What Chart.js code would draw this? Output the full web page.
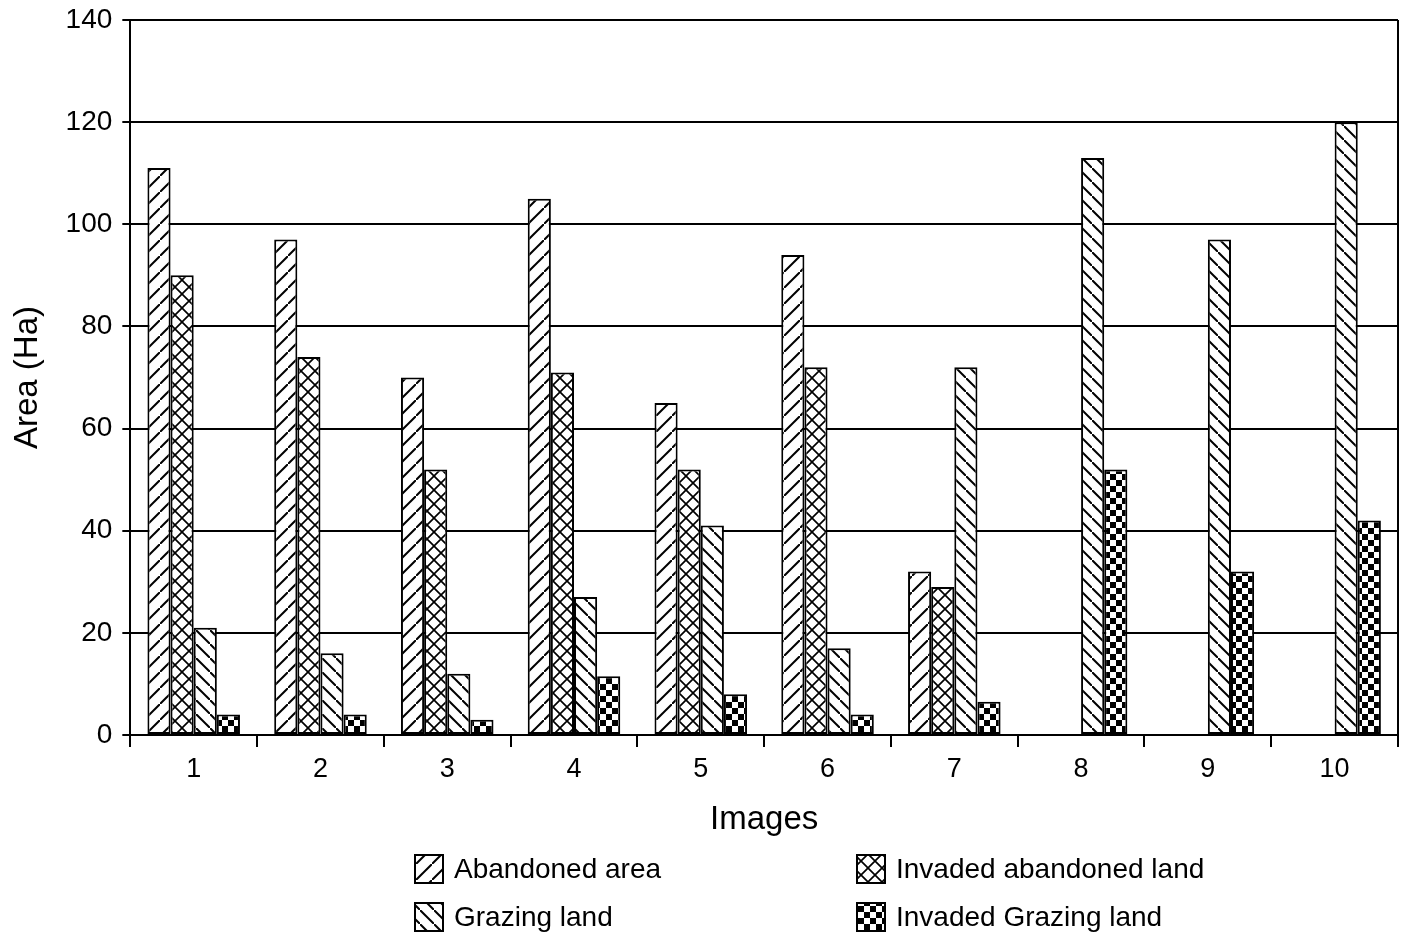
<!DOCTYPE html>
<html>
<head>
<meta charset="utf-8">
<script src="https://cdn.jsdelivr.net/npm/chart.js@4"></script>
<style>
  html, body { margin: 0; padding: 0; background: #fff; }
  #wrap { width: 1408px; height: 934px; position: relative; }
</style>
</head>
<body>
<div id="wrap"><canvas id="c"></canvas></div>
<script>
// ---- data ----
const images = ['1', '2', '3', '4', '5', '6', '7', '8', '9', '10'];
const abandonedArea   = [111, 97, 70, 105, 65, 94, 32, null, null, null];
const invadedAbandon  = [90, 74, 52, 71, 52, 72, 29, null, null, null];
const grazingLand     = [21, 16, 12, 27, 41, 17, 72, 113, 97, 120];
const invadedGrazing  = [4, 4, 3, 11.5, 8, 4, 6.5, 52, 32, 42];
const yTicks = [0, 20, 40, 60, 80, 100, 120, 140];

const FONT = "'Liberation Sans', Arial, Helvetica, sans-serif";

// ---- hatch patterns ----
function makePattern(size, draw) {
  const c = document.createElement('canvas');
  c.width = size; c.height = size;
  const g = c.getContext('2d');
  g.fillStyle = '#fff';
  g.fillRect(0, 0, size, size);
  g.strokeStyle = '#000';
  g.fillStyle = '#000';
  g.lineWidth = 2;
  draw(g, size);
  return g.createPattern(c, 'repeat');
}
const patAbandoned = makePattern(16, (g, s) => {
  g.beginPath();
  g.moveTo(-1, s + 1); g.lineTo(s + 1, -1);
  g.stroke();
});
const patGrazing = makePattern(14, (g, s) => {
  g.beginPath();
  g.moveTo(-1, -1); g.lineTo(s + 1, s + 1);
  g.stroke();
});
const patCross = makePattern(14, (g, s) => {
  g.lineWidth = 1.7;
  g.beginPath();
  g.moveTo(-1, s + 1); g.lineTo(s + 1, -1);
  g.moveTo(-1, -1); g.lineTo(s + 1, s + 1);
  g.stroke();
});
const patChecker = makePattern(12, (g, s) => {
  g.fillRect(0, 0, 6, 6);
  g.fillRect(6, 6, 6, 6);
});

// ---- plugins ----
const frame = {
  id: 'frame',
  afterDraw(chart) {
    const { ctx, chartArea: a } = chart;
    ctx.save();
    ctx.strokeStyle = '#000';
    ctx.lineWidth = 2;
    ctx.beginPath();
    ctx.moveTo(a.right, a.top);
    ctx.lineTo(a.right, a.bottom);
    ctx.stroke();
    ctx.restore();
  }
};

const legendItems = [
  { label: 'Abandoned area', fill: patAbandoned, x: 415, y: 855 },
  { label: 'Invaded abandoned land', fill: patCross, x: 857, y: 855 },
  { label: 'Grazing land', fill: patGrazing, x: 415, y: 903 },
  { label: 'Invaded Grazing land', fill: patChecker, x: 857, y: 903 }
];
const gridLegend = {
  id: 'gridLegend',
  afterDraw(chart) {
    const ctx = chart.ctx;
    ctx.save();
    legendItems.forEach(it => {
      ctx.fillStyle = it.fill;
      ctx.fillRect(it.x, it.y, 28, 28);
      ctx.strokeStyle = '#000';
      ctx.lineWidth = 2;
      ctx.strokeRect(it.x, it.y, 28, 28);
      ctx.fillStyle = '#000';
      ctx.font = '28px ' + FONT;
      ctx.textBaseline = 'middle';
      ctx.textAlign = 'left';
      ctx.fillText(it.label, it.x + 39, it.y + 15);
    });
    ctx.restore();
  }
};

// ---- chart ----
const barStyle = { borderColor: '#000', borderWidth: 2, borderSkipped: false };

new Chart(document.getElementById('c'), {
  type: 'bar',
  data: {
    labels: images,
    datasets: [
      { label: 'Abandoned area', data: abandonedArea, backgroundColor: patAbandoned, ...barStyle },
      { label: 'Invaded abandoned land', data: invadedAbandon, backgroundColor: patCross, ...barStyle },
      { label: 'Grazing land', data: grazingLand, backgroundColor: patGrazing, ...barStyle },
      { label: 'Invaded Grazing land', data: invadedGrazing, backgroundColor: patChecker, ...barStyle }
    ]
  },
  options: {
    responsive: true, maintainAspectRatio: false, animation: false,
    categoryPercentage: 0.73, barPercentage: 1,
    layout: { padding: { left: 8, right: 10, top: 20, bottom: 94 } },
    plugins: { legend: { display: false }, tooltip: { enabled: false } },
    scales: {
      x: {
        grid: { drawOnChartArea: false, color: '#000', lineWidth: 2, tickLength: 12, offset: true },
        border: { color: '#000', width: 2 },
        ticks: { color: '#000', font: { family: FONT, size: 27 }, padding: 6 },
        title: { display: true, text: 'Images', color: '#000', font: { family: FONT, size: 33 }, padding: { top: 9, bottom: 0 } }
      },
      y: {
        min: 0, max: 140,
        afterBuildTicks: ax => { ax.ticks = yTicks.map(v => ({ value: v })); },
        afterFit: ax => { ax.paddingTop = 0; ax.paddingBottom = 0; },
        grid: { color: '#000', lineWidth: 2, tickLength: 8 },
        border: { color: '#000', width: 2 },
        ticks: { color: '#000', font: { family: FONT, size: 28 }, padding: 10 },
        title: { display: true, text: 'Area (Ha)', color: '#000', font: { family: FONT, size: 33 }, padding: { top: 0, bottom: 8 } }
      }
    }
  },
  plugins: [frame, gridLegend]
});
</script>
</body>
</html>
